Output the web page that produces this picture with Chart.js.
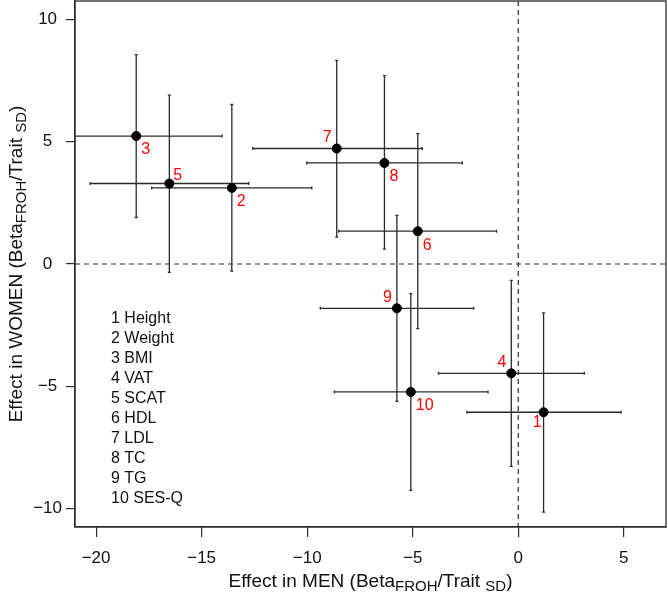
<!DOCTYPE html>
<html>
<head>
<meta charset="utf-8">
<script src="https://cdn.jsdelivr.net/npm/chart.js@4/dist/chart.umd.min.js"></script>
<style>
  html, body { margin: 0; padding: 0; background: #fff; }
  #wrap { width: 668px; height: 596px; }
</style>
</head>
<body>
<div id="wrap"><canvas id="froh" width="668" height="596"></canvas></div>
<script>
// Trait numbers and names (legend inside the plot)
const traitIds = ['1', '2', '3', '4', '5', '6', '7', '8', '9', '10'];
const traitNames = ['Height', 'Weight', 'BMI', 'VAT', 'SCAT', 'HDL', 'LDL', 'TC', 'TG', 'SES-Q'];

// Effect in men (x) with 95% CI
const menBeta = [1.20, -13.57, -18.10, -0.33, -16.53, -4.76, -8.60, -6.34, -5.75, -5.09];
const menLow  = [-2.43, -17.37, -22.17, -3.78, -20.28, -8.51, -12.58, -10.02, -9.38, -8.71];
const menHigh = [4.87, -9.78, -14.03, 3.13, -12.77, -1.03, -4.55, -2.65, -2.11, -1.43];

// Effect in women (y) with 95% CI
const womenBeta = [-6.06, 3.11, 5.23, -4.47, 3.29, 1.34, 4.72, 4.13, -1.81, -5.23];
const womenLow  = [-10.14, -0.29, 1.90, -8.27, -0.34, -2.64, 1.10, 0.61, -5.61, -9.25];
const womenHigh = [-2.00, 6.52, 8.56, -0.67, 6.90, 5.33, 8.32, 7.70, 1.99, -1.21];

// Axis ticks
const xTicks = [-20, -15, -10, -5, 0, 5];
const yTicks = [-10, -5, 0, 5, 10];

// where each red number sits relative to its point
const labelSide = ['bl', 'br', 'br', 'tl', 'tr', 'br', 'tl', 'br', 'tl', 'br'];

const FONT = '"Liberation Sans", Arial, Helvetica, sans-serif';
const INK = '#2b2b2b';

const points = menBeta.map((x, i) => ({ x: x, y: womenBeta[i] }));

function minus(v) {
  return String(v).replace('-', '\u2212');
}

// error bars go under the dots
const errorBars = {
  id: 'errorBars',
  beforeDatasetsDraw(chart) {
    const { ctx, scales: { x, y }, chartArea } = chart;
    const cap = 1.5;
    ctx.save();
    ctx.beginPath();
    ctx.rect(chartArea.left, chartArea.top, chartArea.right - chartArea.left, chartArea.bottom - chartArea.top);
    ctx.clip();
    ctx.strokeStyle = INK;
    ctx.lineWidth = 1.3;
    for (let i = 0; i < menBeta.length; i++) {
      const px = x.getPixelForValue(menBeta[i]);
      const py = y.getPixelForValue(womenBeta[i]);
      const x0 = x.getPixelForValue(menLow[i]);
      const x1 = x.getPixelForValue(menHigh[i]);
      const y0 = y.getPixelForValue(womenLow[i]);
      const y1 = y.getPixelForValue(womenHigh[i]);
      ctx.beginPath();
      ctx.moveTo(x0, py); ctx.lineTo(x1, py);
      ctx.moveTo(x0, py - cap); ctx.lineTo(x0, py + cap);
      ctx.moveTo(x1, py - cap); ctx.lineTo(x1, py + cap);
      ctx.moveTo(px, y0); ctx.lineTo(px, y1);
      ctx.moveTo(px - cap, y0); ctx.lineTo(px + cap, y0);
      ctx.moveTo(px - cap, y1); ctx.lineTo(px + cap, y1);
      ctx.stroke();
    }
    ctx.restore();
  }
};

// title with subscripts, centred on (cx, cy)
function drawTitle(ctx, parts, cx, cy) {
  const big = '19px ' + FONT;
  const small = '15px ' + FONT;
  let total = 0;
  parts.forEach(p => { ctx.font = p.sub ? small : big; total += ctx.measureText(p.t).width; });
  let cur = cx - total / 2;
  ctx.textAlign = 'left';
  ctx.textBaseline = 'alphabetic';
  parts.forEach(p => {
    ctx.font = p.sub ? small : big;
    ctx.fillText(p.t, cur, cy + (p.sub ? 4 : 0));
    cur += ctx.measureText(p.t).width;
  });
}

const decorations = {
  id: 'decorations',
  beforeDatasetsDraw(chart) {
    const { ctx, scales: { x, y }, chartArea: a } = chart;
    ctx.save();
    ctx.strokeStyle = INK;
    ctx.lineWidth = 1.2;
    ctx.setLineDash([5, 4]);
    const zx = x.getPixelForValue(0);
    const zy = y.getPixelForValue(0);
    ctx.beginPath();
    ctx.moveTo(zx, a.top); ctx.lineTo(zx, a.bottom);
    ctx.moveTo(a.left, zy); ctx.lineTo(a.right, zy);
    ctx.stroke();
    ctx.restore();
  },
  afterDraw(chart) {
    const { ctx, scales: { x, y }, chartArea: a } = chart;
    ctx.save();
    // frame
    ctx.strokeStyle = INK;
    ctx.lineWidth = 1.3;
    ctx.strokeRect(a.left, a.top, a.right - a.left, a.bottom - a.top);

    // red trait numbers
    ctx.fillStyle = '#ff0000';
    ctx.font = '16px ' + FONT;
    ctx.textBaseline = 'middle';
    for (let i = 0; i < traitIds.length; i++) {
      const px = x.getPixelForValue(menBeta[i]);
      const py = y.getPixelForValue(womenBeta[i]);
      const s = labelSide[i];
      let dx, dy;
      if (s === 'br') { ctx.textAlign = 'left'; dx = 5; dy = 14; }
      else if (s === 'tr') { ctx.textAlign = 'left'; dx = 4; dy = -8; }
      else if (s === 'tl') { ctx.textAlign = 'right'; dx = -5; dy = -11; }
      else { ctx.textAlign = 'right'; dx = -2; dy = 10; }
      ctx.fillText(traitIds[i], px + dx, py + dy);
    }

    // legend text
    ctx.fillStyle = '#111';
    ctx.font = '16px ' + FONT;
    ctx.textAlign = 'left';
    ctx.textBaseline = 'middle';
    traitNames.forEach((n, i) => {
      ctx.fillText(traitIds[i] + ' ' + n, a.left + 36, a.top + 318 + i * 19.9);
    });

    // axis titles
    ctx.fillStyle = '#111';
    drawTitle(ctx, [
      { t: 'Effect in MEN (Beta' }, { t: 'FROH', sub: true },
      { t: '/Trait ' }, { t: 'SD', sub: true }, { t: ')' }
    ], (a.left + a.right) / 2, 587);
    ctx.translate(22, (a.top + a.bottom) / 2);
    ctx.rotate(-Math.PI / 2);
    drawTitle(ctx, [
      { t: 'Effect in WOMEN (Beta' }, { t: 'FROH', sub: true },
      { t: '/Trait ' }, { t: 'SD', sub: true }, { t: ')' }
    ], 0, 0);
    ctx.restore();
  }
};

const ctx = document.getElementById('froh').getContext('2d');
const frohChart = new Chart(ctx, {
  type: 'scatter',
  data: {
    datasets: [{
      label: 'Traits',
      data: points,
      backgroundColor: '#000',
      borderColor: '#000',
      pointRadius: 4.5,
      pointHoverRadius: 4.5
    }]
  },
  options: {
    responsive: false,
    animation: false,
    devicePixelRatio: 1,
    layout: { autoPadding: false, padding: { top: 1, right: 2, left: 0, bottom: 0 } },
    plugins: {
      legend: { display: false },
      tooltip: { enabled: false }
    },
    scales: {
      x: {
        type: 'linear',
        min: -21,
        max: 7,
        afterBuildTicks: s => { s.ticks = xTicks.map(v => ({ value: v })); },
        afterFit: s => { s.height = 69; s.paddingLeft = 0; s.paddingRight = 0; },
        grid: { drawOnChartArea: false, drawTicks: true, tickLength: 10, color: INK, lineWidth: 1.2 },
        border: { display: true, color: INK, width: 1.3 },
        ticks: {
          color: '#111',
          padding: 11,
          maxRotation: 0,
          font: { family: FONT, size: 17 },
          callback: v => minus(v)
        }
      },
      y: {
        type: 'linear',
        min: -10.75,
        max: 10.75,
        afterBuildTicks: s => { s.ticks = yTicks.map(v => ({ value: v })); },
        afterFit: s => { s.width = 75; s.paddingTop = 0; s.paddingBottom = 0; },
        grid: { drawOnChartArea: false, drawTicks: true, tickLength: 9, color: INK, lineWidth: 1.2 },
        border: { display: true, color: INK, width: 1.3 },
        ticks: {
          color: '#111',
          padding: 4,
          crossAlign: 'center',
          font: { family: FONT, size: 17 },
          callback: v => minus(v)
        }
      }
    }
  },
  plugins: [errorBars, decorations]
});
</script>
</body>
</html>
